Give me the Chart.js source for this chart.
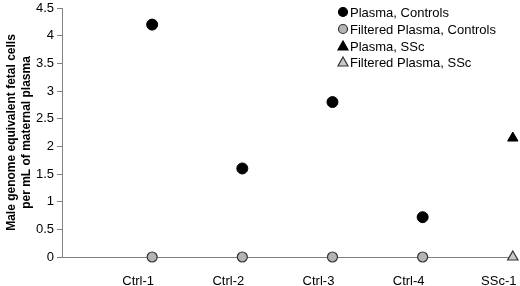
<!DOCTYPE html>
<html><head><meta charset="utf-8">
<script src="https://cdn.jsdelivr.net/npm/chart.js@4/dist/chart.umd.min.js"></script>
<style>html,body{margin:0;padding:0;background:#fff}#wrap{width:520px;height:286px}</style>
</head><body><div id="wrap"><canvas id="c" width="520" height="286"></canvas></div>
<script>
const categories = ['Ctrl-1', 'Ctrl-2', 'Ctrl-3', 'Ctrl-4', 'SSc-1'];
const plasmaControls = [4.2, 1.6, 2.8, 0.72];
const filteredControls = [0, 0, 0, 0];
const plasmaSSc = [2.15];
const filteredSSc = [0];
const yTicks = [0, 0.5, 1, 1.5, 2, 2.5, 3, 3.5, 4, 4.5];
const seriesLabels = ['Plasma, Controls', 'Filtered Plasma, Controls', 'Plasma, SSc', 'Filtered Plasma, SSc'];

const FONT = 'Arial, "Liberation Sans", sans-serif';
const toPts = (vals, start) => vals.map((v, i) => ({x: start + i + 1, y: v}));

const legendPlugin = {
  id: 'customLegend',
  afterDraw(chart) {
    const ctx = chart.ctx;
    const rows = [12, 29, 46, 62];
    chart.data.datasets.forEach((ds, i) => {
      const y = rows[i];
      const mx = 343;
      ctx.save();
      ctx.fillStyle = ds.backgroundColor;
      ctx.strokeStyle = ds.borderColor;
      ctx.lineWidth = 1.2;
      ctx.beginPath();
      if (ds.pointStyle === 'triangle') {
        ctx.moveTo(mx, y - 5);
        ctx.lineTo(mx + 5, y + 4);
        ctx.lineTo(mx - 5, y + 4);
        ctx.closePath();
      } else {
        ctx.arc(mx, y, 4.5, 0, Math.PI * 2);
      }
      ctx.fill();
      ctx.stroke();
      ctx.fillStyle = '#000';
      ctx.font = '13px ' + FONT;
      ctx.textBaseline = 'middle';
      ctx.textAlign = 'left';
      ctx.fillText(ds.label, 350, y + 1);
      ctx.restore();
    });
  }
};

new Chart(document.getElementById('c'), {
  type: 'scatter',
  data: {
    datasets: [
      {label: seriesLabels[0], data: toPts(plasmaControls, 0), pointStyle: 'circle', pointRadius: 5.5,
       backgroundColor: '#000', borderColor: '#000', borderWidth: 1},
      {label: seriesLabels[1], data: toPts(filteredControls, 0), pointStyle: 'circle', pointRadius: 5,
       backgroundColor: '#b4b4b4', borderColor: '#333', borderWidth: 1.2},
      {label: seriesLabels[2], data: toPts(plasmaSSc, 4), pointStyle: 'triangle', pointRadius: 6,
       backgroundColor: '#000', borderColor: '#000', borderWidth: 1},
      {label: seriesLabels[3], data: toPts(filteredSSc, 4), pointStyle: 'triangle', pointRadius: 6,
       backgroundColor: '#c8c8c8', borderColor: '#333', borderWidth: 1.2}
    ]
  },
  options: {
    responsive: false,
    animation: false,
    clip: false,
    layout: {padding: {top: 8, right: 7, left: 0, bottom: 0}},
    plugins: {legend: {display: false}, tooltip: {enabled: false}},
    scales: {
      x: {
        type: 'linear', min: 0, max: categories.length,
        afterFit(s) { s.height = 29; s.paddingRight = 0; s.paddingLeft = 0; },
        grid: {display: false, drawTicks: false},
        border: {display: true, color: '#808080', width: 1},
        ticks: {
          stepSize: 1, padding: 17, labelOffset: -14, color: '#000', font: {family: FONT, size: 13},
          callback: (v) => (v >= 1 && v <= categories.length) ? categories[v - 1] : ''
        }
      },
      y: {
        min: 0, max: 4.5,
        afterFit(s) { s.width = 62; s.paddingTop = 0; s.paddingBottom = 0; },
        afterBuildTicks(s) { s.ticks = yTicks.map(v => ({value: v})); },
        grid: {display: true, drawOnChartArea: false, drawTicks: true, tickLength: 5, color: '#808080'},
        border: {display: true, color: '#808080', width: 1},
        ticks: {padding: 3, color: '#000', font: {family: FONT, size: 13}, callback: (v) => String(v)},
        title: {
          display: true,
          text: ['Male genome equivalent fetal cells', 'per mL of maternal plasma'],
          color: '#000',
          font: {family: FONT, size: 12, weight: 'bold', lineHeight: 1.25},
          padding: {top: 4, bottom: 2}
        }
      }
    }
  },
  plugins: [legendPlugin]
});
</script>
</body></html>
